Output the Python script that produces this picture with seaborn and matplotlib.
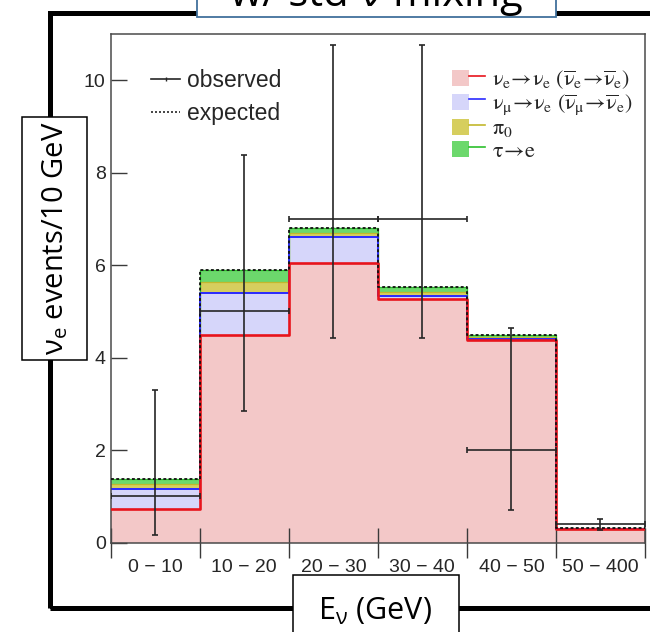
import numpy as np
import pandas as pd
import matplotlib
matplotlib.use("Agg")
import matplotlib.pyplot as plt
from matplotlib.patches import Rectangle, Patch
from matplotlib.lines import Line2D
from matplotlib.legend_handler import HandlerTuple, HandlerPatch
from matplotlib.font_manager import FontProperties
import seaborn as sns

# ---------------- data ----------------
bin_labels = ["0 \u2212 10", "10 \u2212 20", "20 \u2212 30", "30 \u2212 40", "40 \u2212 50", "50 \u2212 400"]
nue_to_nue = [0.72, 4.50, 6.05, 5.27, 4.39, 0.29]
numu_to_nue = [0.45, 0.91, 0.55, 0.06, 0.02, 0.005]
pi0 = [0.11, 0.22, 0.10, 0.09, 0.03, 0.005]
tau_to_e = [0.09, 0.27, 0.10, 0.10, 0.06, 0.01]
observed = [1.0, 5.0, 7.0, 7.0, 2.0, 0.40]
observed_low = [0.17, 2.84, 4.42, 4.42, 0.71, 0.27]
observed_high = [3.30, 8.38, 10.77, 10.77, 4.64, 0.51]

component_names = ["nue_nue", "numu_nue", "pi0", "tau_e"]
component_labels = [
    r"$\mathrm{\nu_e\!\rightarrow\!\nu_e\ (\overline{\nu}_e\!\rightarrow\!\overline{\nu}_e)}$",
    r"$\mathrm{\nu_\mu\!\rightarrow\!\nu_e\ (\overline{\nu}_\mu\!\rightarrow\!\overline{\nu}_e)}$",
    r"$\mathrm{\pi_0}$",
    r"$\mathrm{\tau\!\rightarrow\! e}$",
]
fill_colors = ["#f3c8c8", "#d6d6fa", "#d6ce5e", "#6cd86c"]
line_colors = ["#e8141c", "#2a2aff", "#c2b82c", "#2cc02c"]

# ---------------- frame ----------------
W, H = 650, 632
fig = plt.figure(figsize=(W / 100, H / 100), dpi=100)
plt.rcParams["font.family"] = ["Liberation Sans", "DejaVu Sans"]

ax_l, ax_r, ax_t, ax_b = 110.7, 645.0, 34.0, 542.7
ax = fig.add_axes([ax_l / W, (H - ax_b) / H, (ax_r - ax_l) / W, (ax_b - ax_t) / H])

edges = list(range(len(bin_labels) + 1))
centers = np.arange(len(bin_labels)) + 0.5

df = pd.DataFrame({
    "x": np.tile(centers, len(component_names)),
    "component": np.repeat(component_names, len(bin_labels)),
    "w": np.concatenate([nue_to_nue, numu_to_nue, pi0, tau_to_e]),
})
stack_order = component_names[::-1]  # seaborn puts the first hue level on top
fill_pal = dict(zip(component_names, fill_colors))
line_pal = dict(zip(component_names, line_colors))

sns.histplot(data=df, x="x", weights="w", hue="component", hue_order=stack_order,
             bins=edges, multiple="stack", element="step", fill=True,
             palette=fill_pal, alpha=1, linewidth=0, edgecolor="none",
             legend=False, ax=ax, zorder=1)
sns.histplot(data=df, x="x", weights="w", hue="component", hue_order=stack_order,
             bins=edges, multiple="stack", element="step", fill=False,
             palette=line_pal, linewidth=1.2, legend=False, ax=ax, zorder=2)
for ln in ax.lines:
    c = matplotlib.colors.to_hex(ln.get_color())
    if c == line_colors[0]:
        ln.set_linewidth(1.9)
        ln.set_zorder(3)
    elif c == line_colors[1]:
        ln.set_linewidth(1.4)
        ln.set_zorder(2.5)
    else:
        ln.set_linewidth(0.9)

# expected total (dashed)
sns.histplot(data=df, x="x", weights="w", bins=edges, element="step", fill=False,
             color="#111111", linewidth=1.3, linestyle=(0, (1.6, 1.3)), ax=ax, zorder=4)

# observed
obs = np.array(observed)
yerr = np.vstack([obs - np.array(observed_low), np.array(observed_high) - obs])
ax.errorbar(centers, obs, xerr=0.5, yerr=yerr, fmt="none", ecolor="#262626",
            elinewidth=1.2, capsize=2.2, capthick=1.2, zorder=5)

# ---------------- axes styling ----------------
ax.set_xlim(0, 6)
ax.set_ylim(0, 11)
ax.set_xlabel("")
ax.set_ylabel("")
ax.set_xticks(edges)
ax.set_xticklabels([])
ax.set_xticks(centers, minor=True)
ax.set_xticklabels(bin_labels, minor=True)
ax.set_yticks([0, 2, 4, 6, 8, 10])
ax.tick_params(axis="x", which="major", direction="inout", length=22, width=1.0, color="#3a3a3a")
ax.tick_params(axis="x", which="minor", length=0, pad=12, labelsize=14, labelcolor="#262626")
ax.tick_params(axis="y", which="major", direction="in", length=11.5, width=1.0, color="#3a3a3a",
               pad=3.6, labelsize=14, labelcolor="#262626")
for s in ax.spines.values():
    s.set_color("#4a4a4a")
    s.set_linewidth(1.1)
ax.set_facecolor("white")

# ---------------- legends ----------------
obs_handle = Line2D([], [], color="#262626", lw=1.2, marker="|", markersize=3.5, markeredgewidth=1.0)
exp_handle = Line2D([], [], color="#262626", lw=1.2, linestyle=(0, (1.2, 1.2)))
leg1 = ax.legend([obs_handle, exp_handle], ["observed", "expected"], loc="upper left",
                 bbox_to_anchor=(150.7 / W, (H - 69) / H), bbox_transform=fig.transFigure,
                 frameon=False, fontsize=16.5, handlelength=1.3, handletextpad=0.3,
                 labelspacing=0.42, borderpad=0, borderaxespad=0, labelcolor="#262626")
ax.add_artist(leg1)


def small_patch(legend, orig_handle, xdescent, ydescent, width, height, fontsize):
    h = 16 * 72 / 100  # patch height in points
    return Rectangle((-xdescent, -ydescent + (height - h) / 2), width, h)


handles2 = [(Patch(facecolor=fc, edgecolor="none"), Line2D([], [], color=lc, lw=1.2))
            for fc, lc in zip(fill_colors, line_colors)]
prop2 = FontProperties(family="Liberation Serif", size=16, math_fontfamily="stix")
leg2 = ax.legend(handles2, component_labels, loc="upper left",
                 bbox_to_anchor=(452 / W, (H - 66.2) / H), bbox_transform=fig.transFigure,
                 frameon=False, prop=prop2, handlelength=1.49, handleheight=1.3,
                 handletextpad=0.3, labelspacing=-0.095, borderpad=0, borderaxespad=0,
                 handler_map={tuple: HandlerTuple(ndivide=None, pad=0),
                              Patch: HandlerPatch(patch_func=small_patch)},
                 labelcolor="#262626")

# ---------------- slide decorations ----------------
slide_font = ["Open Sans", "DejaVu Sans"]
fig.add_artist(Rectangle((50.5 / W, (H - 608) / H), 1.2, (608 - 12.7) / H, transform=fig.transFigure,
                         fill=False, edgecolor="black", linewidth=3.6, zorder=0))
# title box (cut by the top edge)
fig.add_artist(Rectangle((197 / W, (H - 17.3) / H), (556 - 197) / W, 0.1, transform=fig.transFigure,
                         facecolor="white", edgecolor="#41719c", linewidth=1.3, zorder=10))
fig.text(376.5 / W, (H - 6) / H, "w/ std \u03bd mixing", ha="center", va="baseline",
         fontsize=30, family=slide_font, color="black", zorder=11)
# y label box
fig.add_artist(Rectangle((22 / W, (H - 360) / H), (87 - 22) / W, (360 - 117) / H, transform=fig.transFigure,
                         facecolor="white", edgecolor="black", linewidth=1.1, zorder=10))
fig.text(55 / W, (H - 238.5) / H, "\u03bd$_{\\mathregular{e}}$ events/10 GeV",
         ha="center", va="center", rotation=90, fontsize=21, family=slide_font, color="black", zorder=11)
# x label box
fig.add_artist(Rectangle((292.5 / W, (H - 645) / H), (458.6 - 292.5) / W, (645 - 575) / H,
                         transform=fig.transFigure, facecolor="white", edgecolor="black",
                         linewidth=1.1, zorder=10))
fig.text(375 / W, (H - 620) / H, "E$_{\\mathregular{\u03bd}}$ (GeV)",
         ha="center", va="baseline", fontsize=22, family=slide_font, color="black", zorder=11)

fig.savefig("out.png", dpi=100, facecolor="white")
